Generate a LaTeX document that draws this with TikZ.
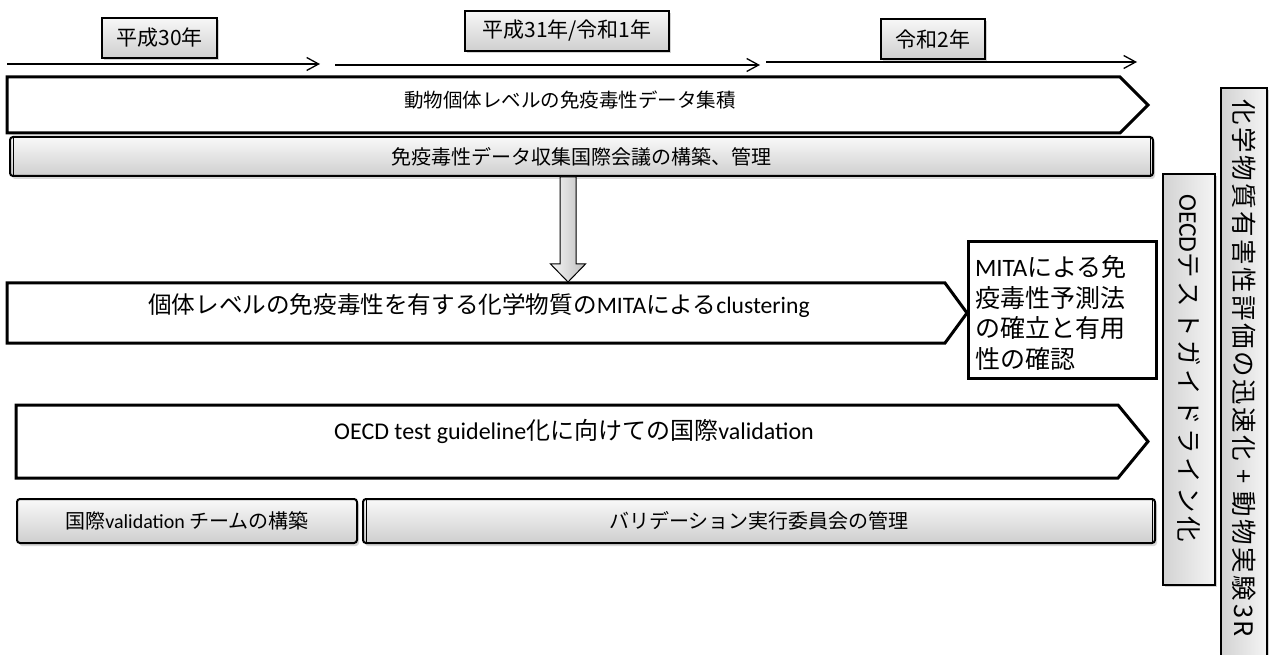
\documentclass[tikz,border=0pt]{standalone}
\usepackage{fontspec}
\setmainfont{Noto Sans CJK JP}
\newfontfamily\lat{Carlito}
\newfontfamily\vjpa[LetterSpace=15]{Noto Sans CJK JP}
\newfontfamily\vjpb[LetterSpace=10]{Noto Sans CJK JP}
\usetikzlibrary{arrows.meta,shadows,calc}
\newcommand{\latx}[1]{{\lat #1}}
\tikzset{
  box0/.style={inner sep=0pt, outer sep=0pt},
  yearbox/.style={draw=black, line width=1.5pt, top color=gray!6, bottom color=gray!38,
    drop shadow={shadow xshift=2pt, shadow yshift=-2pt, opacity=0.35},
    minimum height=40pt, inner sep=0pt, font=\fontsize{21pt}{25pt}\selectfont},
  tline/.style={line width=1.3pt, -{Straight Barb[length=12pt,width=13pt,line width=1.3pt]}},
  pentline/.style={draw=black, line width=3pt, line join=miter, fill=white},
  gbar/.style={draw=black, line width=2pt, rounded corners=3pt, top color=gray!5, bottom color=gray!38,
    drop shadow={shadow xshift=2pt, shadow yshift=-3pt, opacity=0.3},
    inner sep=0pt, font=\fontsize{20pt}{24pt}\selectfont},
  inline/.style={line width=1pt},
  darrow/.style={draw=black, line width=1pt, line join=miter, left color=gray!8, right color=gray!50},
  vbox/.style={draw=black, line width=1.6pt, left color=gray!35, right color=gray!8,
    drop shadow={shadow xshift=2pt, shadow yshift=-2pt, opacity=0.35}, inner sep=0pt},
  whitebox/.style={draw=black, line width=3pt, fill=white, inner sep=0pt}
}
\begin{document}
\begin{tikzpicture}[x=1pt,y=-1pt]
\useasboundingbox (0,0) rectangle (1270,655);

% year boxes
\node[yearbox, minimum width=115pt] (y1) at (159.5,38) {平成30年};
\node[yearbox, minimum width=204pt] (y2) at (567,31) {平成31年/令和1年};
\node[yearbox, minimum width=104pt] (y3) at (933,39) {令和2年};

% timeline arrows
\coordinate (a1s) at (7,64);   \coordinate (a1e) at (320,64);
\coordinate (a2s) at (335,65); \coordinate (a2e) at (760,65);
\coordinate (a3s) at (766,62); \coordinate (a3e) at (1137,62);
\draw[tline] (a1s) -- (a1e);
\draw[tline] (a2s) -- (a2e);
\draw[tline] (a3s) -- (a3e);

% pentagon 1
\node[box0, minimum width=1113pt, minimum height=56pt] (p1) at (563.5,105) {};
\draw[pentline] (p1.north west) -- (p1.north east) -- ($(p1.east)+(28,0)$) -- (p1.south east) -- (p1.south west) -- cycle;
\node[box0, font=\fontsize{19.5pt}{24pt}\selectfont] (p1t) at (570,100) {動物個体レベルの免疫毒性データ集積};

% bar 1
\node[gbar, minimum width=1143pt, minimum height=39pt] (b1) at (581.5,156.5) {免疫毒性データ収集国際会議の構築、管理};
\draw[inline] ([xshift=4pt]b1.north west) -- ([xshift=4pt]b1.south west);
\draw[inline] ([xshift=-4pt]b1.north east) -- ([xshift=-4pt]b1.south east);

% down block arrow
\coordinate (dtop) at (568,177);
\coordinate (dtip) at (568,282);
\draw[darrow] ($(dtop)+(-8,0)$) -- ($(dtop)+(8,0)$) -- ($(dtip)+(8,-18)$) -- ($(dtip)+(17.5,-18)$) -- (dtip) -- ($(dtip)+(-17.5,-18)$) -- ($(dtip)+(-8,-18)$) -- cycle;

% pentagon 2
\node[box0, minimum width=938pt, minimum height=60pt] (p2) at (476,313) {};
\draw[pentline] (p2.north west) -- (p2.north east) -- ($(p2.east)+(22,0)$) -- (p2.south east) -- (p2.south west) -- cycle;
\node[box0, font=\fontsize{23.6pt}{28pt}\selectfont] (p2t) at (479,306) {個体レベルの免疫毒性を有する化学物質の\latx{MITA}による\latx{clustering}};

% MITA box
\node[whitebox, minimum width=188pt, minimum height=136pt] (mb) at (1062,310) {};
\node[box0, anchor=north west, align=left, font=\fontsize{25pt}{30.5pt}\selectfont] (mt) at (975,255.5) {\latx{MITA}による免\\疫毒性予測法\\の確立と有用\\性の確認};

% pentagon 3
\node[box0, minimum width=1102pt, minimum height=73pt] (p3) at (567,441.5) {};
\draw[pentline] (p3.north west) -- (p3.north east) -- ($(p3.east)+(30,0)$) -- (p3.south east) -- (p3.south west) -- cycle;
\node[box0, font=\fontsize{24pt}{28pt}\selectfont] (p3t) at (574,431) {\latx{OECD test guideline}化に向けての国際\latx{validation}};

% bars 3
\node[gbar, minimum width=340pt, minimum height=44pt] (b3a) at (187,521) {国際\latx{validation} チームの構築};
\node[gbar, minimum width=792pt, minimum height=44pt] (b3b) at (759,521) {バリデーション実行委員会の管理};
\draw[inline] ([xshift=4pt]b3b.north west) -- ([xshift=4pt]b3b.south west);
\draw[inline] ([xshift=-4pt]b3b.north east) -- ([xshift=-4pt]b3b.south east);

% vertical boxes
\node[vbox, minimum width=52pt, minimum height=411pt] (v1) at (1189,379.5) {};
\node[box0, rotate=-90, font=\fontsize{25.5pt}{30pt}\selectfont] (v1t) at (1189,368) {\latx{OECD}{\vjpa テストガイドライン化}};
\node[vbox, minimum width=46pt, minimum height=569pt] (v2) at (1244,372.5) {};
\node[box0, rotate=-90, font=\fontsize{25.5pt}{30pt}\selectfont] (v2t) at (1244,368) {{\vjpb 化学物質有害性評価の迅速化 + 動物実験3R}};
\end{tikzpicture}
\end{document}
